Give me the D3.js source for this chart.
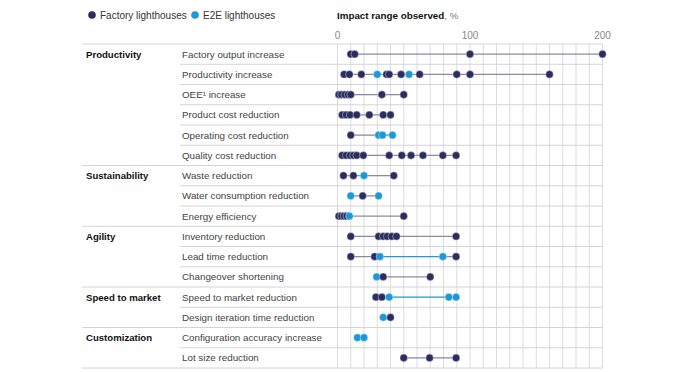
<!DOCTYPE html>
<html>
<head>
<meta charset="utf-8">
<script src="https://cdn.jsdelivr.net/npm/d3@7"></script>
<style>
  body { margin: 0; background: #fff; }
  svg { display: block; font-family: "Liberation Sans", Arial, sans-serif; }
</style>
</head>
<body>
<script>
// categories
let rowLabels = ['Factory output increase', 'Productivity increase', 'OEE¹ increase', 'Product cost reduction',
  'Operating cost reduction', 'Quality cost reduction', 'Waste reduction', 'Water consumption reduction',
  'Energy efficiency', 'Inventory reduction', 'Lead time reduction', 'Changeover shortening',
  'Speed to market reduction', 'Design iteration time reduction', 'Configuration accuracy increase', 'Lot size reduction'];

let groups = [
  { name: 'Productivity', start: 0 },
  { name: 'Sustainability', start: 6 },
  { name: 'Agility', start: 9 },
  { name: 'Speed to market', start: 12 },
  { name: 'Customization', start: 14 }
];

// series values, %
let factoryVals = [
  [10, 13, 100, 200],
  [5, 9, 18, 37, 39, 48, 62, 90, 100, 160],
  [1, 3, 5.5, 8, 10, 33.5, 50],
  [3.5, 6.5, 9.5, 14.5, 24, 34.5, 40],
  [10],
  [3.5, 6.5, 9.5, 12, 14.5, 19.5, 39, 48.5, 55.5, 64.5, 79.5, 89.5],
  [4.5, 12, 42.5],
  [19],
  [1, 3, 5, 7, 50],
  [10, 31, 34.5, 37.5, 41, 44.5, 89.5],
  [10, 28, 89.5],
  [34.5, 70],
  [29, 33.5],
  [40],
  [],
  [50, 69.5, 89.5]
];

let e2eVals = [
  [],
  [30, 54],
  [],
  [],
  [31, 34, 41.5],
  [],
  [20],
  [10, 31],
  [9],
  [],
  [32, 79.5],
  [29.5],
  [39, 84, 89.5],
  [34.5],
  [15, 20],
  []
];

let xTicks = [0, 100, 200];

let w = 679, h = 372;
let navy = '#2c2d5f', blue = '#1b98d8', lineGray = '#8b8ba3';

let svg = d3.select('body').append('svg')
  .attr('width', w)
  .attr('height', h);

let x = d3.scaleLinear().domain([0, 200]).range([337.5, 602.5]);
let y = d3.scaleBand().domain(d3.range(rowLabels.length)).range([44, 368]);
let bw = y.bandwidth();

// legend
let legend = [{ t: 'Factory lighthouses', c: navy, x: 92 }, { t: 'E2E lighthouses', c: blue, x: 195 }];
legend.forEach(l => {
  svg.append('circle').attr('cx', l.x).attr('cy', 15).attr('r', 3.8).attr('fill', l.c);
  svg.append('text').attr('x', l.x + 8).attr('y', 18.5).text(l.t)
    .style('font-size', '10px').attr('fill', '#333');
});

let title = svg.append('text').attr('x', 337).attr('y', 18.5).style('font-size', '9.8px');
title.append('tspan').text('Impact range observed').attr('font-weight', 'bold').attr('fill', '#111');
title.append('tspan').text(', %').attr('fill', '#777');

// grid
let vgrid = d3.range(0, 201, 10);
svg.append('g').selectAll('line').data(vgrid).enter().append('line')
  .attr('x1', d => x(d)).attr('x2', d => x(d))
  .attr('y1', 44).attr('y2', 368)
  .attr('stroke', '#dcdce0').attr('stroke-width', 1);

svg.append('g').selectAll('line').data(d3.range(rowLabels.length + 1)).enter().append('line')
  .attr('x1', d => groups.some(g => g.start === d) || d === rowLabels.length ? 82 : 180)
  .attr('x2', x(200))
  .attr('y1', d => 44 + d * bw).attr('y2', d => 44 + d * bw)
  .attr('stroke', '#d4d4d8').attr('stroke-width', 1);

svg.append('g').selectAll('text').data(xTicks).enter().append('text')
  .attr('x', d => x(d)).attr('y', 38.5)
  .attr('text-anchor', 'middle')
  .style('font-size', '10px').attr('fill', '#888')
  .text(d => d);

// labels
svg.append('g').selectAll('text').data(rowLabels).enter().append('text')
  .attr('x', 182).attr('y', (d, i) => y(i) + bw / 2 + 3.6)
  .style('font-size', '9.8px').attr('fill', '#444')
  .text(d => d);

svg.append('g').selectAll('text').data(groups).enter().append('text')
  .attr('x', 86).attr('y', d => y(d.start) + bw / 2 + 3.6)
  .style('font-size', '9.6px').attr('font-weight', 'bold').attr('fill', '#111')
  .text(d => d.name);

// dots and connecting segments
rowLabels.forEach((r, i) => {
  let pts = factoryVals[i].map(v => ({ v: v, e: false }))
    .concat(e2eVals[i].map(v => ({ v: v, e: true })))
    .sort((a, b) => a.v - b.v);
  let cy = y(i) + bw / 2;
  let g = svg.append('g');
  for (let k = 1; k < pts.length; k++) {
    let both = pts[k - 1].e && pts[k].e;
    g.append('line')
      .attr('x1', x(pts[k - 1].v)).attr('x2', x(pts[k].v))
      .attr('y1', cy).attr('y2', cy)
      .attr('stroke', both ? blue : lineGray).attr('stroke-width', 1.3);
  }
  g.selectAll('circle').data(pts).enter().append('circle')
    .attr('cx', d => x(d.v)).attr('cy', cy).attr('r', 3.8)
    .attr('fill', d => d.e ? blue : navy)
    .attr('stroke', '#fff').attr('stroke-width', 0.4);
});
</script>
</body>
</html>
